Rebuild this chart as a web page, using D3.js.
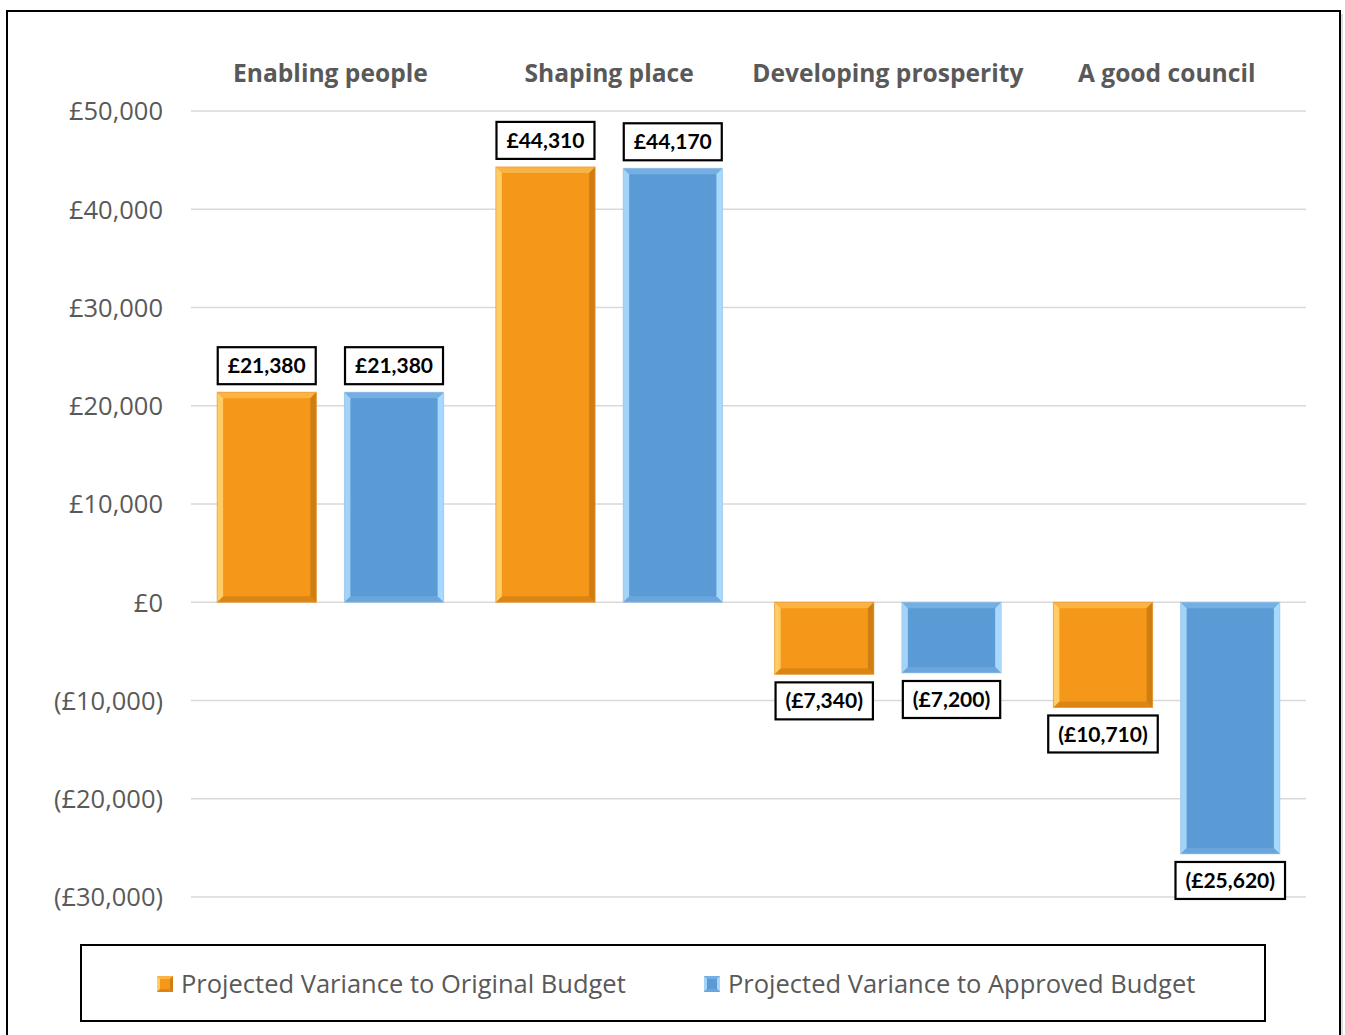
<!DOCTYPE html>
<html>
<head>
<meta charset="utf-8">
<script src="https://cdn.jsdelivr.net/npm/d3@7"></script>
<style>
  html, body { margin: 0; padding: 0; background: #fff; }
  svg { display: block; }
</style>
</head>
<body>
<svg id="chart" width="1345" height="1035"></svg>
<script>
// Budget variance by priority area
const categories = ["Enabling people", "Shaping place", "Developing prosperity", "A good council"];
const seriesNames = ["Projected Variance to Original Budget", "Projected Variance to Approved Budget"];
const originalVariance = [21380, 44310, -7340, -10710];
const approvedVariance = [21380, 44170, -7200, -25620];
const yTicks = [50000, 40000, 30000, 20000, 10000, 0, -10000, -20000, -30000];

const series = [originalVariance, approvedVariance];

const palette = [
  { base: "#F59819", top: "#FBB443", left: "#FFCC66", right: "#CF7E12", bottom: "#DB8614", edge: "#E39A3A" },
  { base: "#5B9BD5", top: "#74AEE2", left: "#A3D4F8", right: "#A6D9FD", bottom: "#6AA6DB", edge: "#A6CBEA" }
];

const svg = d3.select("#chart");
const plot = { left: 191, right: 1306, top: 111, bottom: 897 };

// Outer frame with a soft shadow on the right
svg.append("rect").attr("x", 10).attr("y", 14).attr("width", 1333).attr("height", 1100)
  .attr("fill", "#c4c4c4").attr("opacity", 0.6);
svg.append("rect").attr("x", 7).attr("y", 11).attr("width", 1333).attr("height", 1100)
  .attr("fill", "#fff").attr("stroke", "#000").attr("stroke-width", 2);

const x0 = d3.scaleBand().domain(categories).range([plot.left, plot.right]).padding(0);
const x1 = d3.scaleBand().domain([0, 1]).range([0, x0.bandwidth()])
  .paddingInner(0.22).paddingOuter(0.205);
const y = d3.scaleLinear().domain([-30000, 50000]).range([plot.bottom, plot.top]);

const money = v => {
  const s = "£" + d3.format(",")(Math.abs(v));
  return v < 0 ? "(" + s + ")" : s;
};

// Gridlines
svg.append("g")
  .selectAll("line").data(yTicks).join("line")
  .attr("x1", plot.left).attr("x2", plot.right)
  .attr("y1", d => y(d)).attr("y2", d => y(d))
  .attr("stroke", "#D9D9D9").attr("stroke-width", 1.5);

// Y axis labels
const yAxis = d3.axisLeft(y).tickValues(yTicks).tickFormat(money).tickSize(0).tickPadding(0);
const ga = svg.append("g").attr("transform", `translate(163,0)`).call(yAxis);
ga.select(".domain").remove();
ga.selectAll("text")
  .attr("font-family", "'Open Sans', sans-serif").attr("font-size", 25.5)
  .attr("fill", "#595959").attr("dy", "0.35em");

// Category headers
const gx = svg.append("g").attr("transform", `translate(0,73)`)
  .call(d3.axisTop(x0).tickSize(0).tickPadding(0));
gx.select(".domain").remove();
gx.selectAll("text")
  .attr("font-family", "'Open Sans', sans-serif").attr("font-weight", 700).attr("font-size", 24.6)
  .attr("fill", "#595959").attr("dy", "0.35em");

// Bars with bevelled edges
const bev = 6;
const bars = [];
categories.forEach((c, i) => {
  series.forEach((s, k) => {
    bars.push({ cat: c, k, v: s[i] });
  });
});

const gBars = svg.append("g");
const gLabels = svg.append("g");
bars.forEach(d => {
  const xL = x0(d.cat) + x1(d.k);
  const w = x1.bandwidth();
  const yT = Math.min(y(d.v), y(0));
  const yB = Math.max(y(d.v), y(0));
  const h = yB - yT;
  const p = palette[d.k];
  const g = gBars.append("g");
  g.append("rect").attr("x", xL).attr("y", yT).attr("width", w).attr("height", h).attr("fill", p.base);
  const b = Math.min(bev, h / 2);
  const poly = (pts, fill) => g.append("polygon").attr("points", pts.map(q => q.join(",")).join(" ")).attr("fill", fill);
  poly([[xL, yT], [xL + w, yT], [xL + w - b, yT + b], [xL + b, yT + b]], p.top);
  poly([[xL, yB], [xL + w, yB], [xL + w - b, yB - b], [xL + b, yB - b]], p.bottom);
  poly([[xL, yT], [xL + b, yT + b], [xL + b, yB - b], [xL, yB]], p.left);
  poly([[xL + w, yT], [xL + w - b, yT + b], [xL + w - b, yB - b], [xL + w, yB]], p.right);
  g.append("rect").attr("x", xL).attr("y", yT).attr("width", w).attr("height", h)
    .attr("fill", "none").attr("stroke", p.edge).attr("stroke-width", 1).attr("opacity", 0.6);

  // Value label in a box
  const cx = xL + w / 2;
  const boxH = 37, gap = 8;
  const boxTop = d.v >= 0 ? yT - gap - boxH : yB + gap;
  const lg = gLabels.append("g");
  const box = lg.append("rect").attr("fill", "#fff").attr("stroke", "#000").attr("stroke-width", 2.2);
  const t = lg.append("text").attr("x", cx).attr("y", boxTop + boxH / 2)
    .attr("text-anchor", "middle").attr("dy", "0.36em")
    .attr("font-family", "Lato, 'Open Sans', sans-serif").attr("font-weight", 700).attr("font-size", 21)
    .attr("fill", "#000").text(money(d.v));
  const tw = t.node().getComputedTextLength();
  const bw = tw + 20;
  box.attr("x", cx - bw / 2).attr("y", boxTop).attr("width", bw).attr("height", boxH);
});

// Legend
svg.append("rect").attr("x", 81).attr("y", 945).attr("width", 1184).attr("height", 76)
  .attr("fill", "#fff").attr("stroke", "#000").attr("stroke-width", 2);
const legendX = [157, 704];
seriesNames.forEach((name, k) => {
  const p = palette[k];
  const lx = legendX[k], ly = 976, s = 16;
  const g = svg.append("g");
  g.append("rect").attr("x", lx).attr("y", ly).attr("width", s).attr("height", s).attr("fill", p.base);
  const bb = 3;
  const poly = (pts, fill) => g.append("polygon").attr("points", pts.map(q => q.join(",")).join(" ")).attr("fill", fill);
  poly([[lx, ly], [lx + s, ly], [lx + s - bb, ly + bb], [lx + bb, ly + bb]], p.top);
  poly([[lx, ly], [lx + bb, ly + bb], [lx + bb, ly + s - bb], [lx, ly + s]], p.left);
  poly([[lx + s, ly], [lx + s - bb, ly + bb], [lx + s - bb, ly + s - bb], [lx + s, ly + s]], p.right);
  poly([[lx, ly + s], [lx + s, ly + s], [lx + s - bb, ly + s - bb], [lx + bb, ly + s - bb]], p.bottom);
  g.append("text").attr("x", lx + 24).attr("y", ly + s / 2).attr("dy", "0.36em")
    .attr("font-family", "'Open Sans', sans-serif").attr("font-size", 25.5)
    .attr("fill", "#595959").text(name);
});
</script>
</body>
</html>
